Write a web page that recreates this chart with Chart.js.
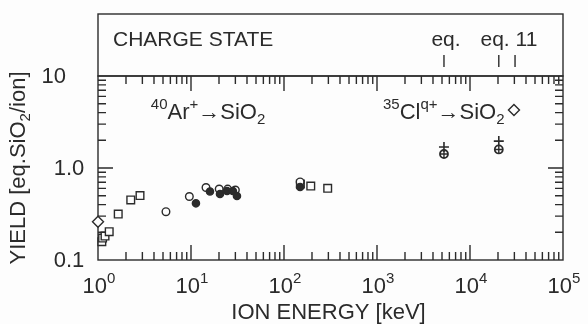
<!DOCTYPE html>
<html>
<head>
<meta charset="utf-8">
<script src="https://cdn.jsdelivr.net/npm/chart.js@4.4.1/dist/chart.umd.min.js"></script>
<style>
  html, body { margin: 0; padding: 0; background: #fdfdfd; }
  canvas { display: block; }
</style>
</head>
<body>
<canvas id="yieldChart" width="588" height="324"></canvas>
<script>
// Sputter yield of SiO2 vs ion energy
const squareEnergy = [1.10, 1.12, 1.19, 1.32, 1.65, 2.25, 2.83, 150, 194, 295];
const squareYield  = [0.158, 0.173, 0.182, 0.203, 0.316, 0.449, 0.502, 0.67, 0.637, 0.601];

const openCircleEnergy = [5.38, 9.6, 14.5, 20.1, 24.8, 30.0, 149];
const openCircleYield  = [0.335, 0.49, 0.614, 0.591, 0.59, 0.576, 0.705];

const filledCircleEnergy = [11.3, 16.0, 20.5, 24.4, 28.2, 31.2, 149];
const filledCircleYield  = [0.413, 0.556, 0.521, 0.562, 0.562, 0.496, 0.621];

const diamondEnergy = [1.0, 29700];
const diamondYield  = [0.261, 4.27];

// 35Cl data: equilibrium charge (crossed circle) and plus markers
const clEqEnergy = [5250, 20400];
const clEqYield  = [1.42, 1.59];
const clPlusEnergy = [5250, 20400];
const clPlusYield  = [1.69, 1.96];

// charge-state markers in the upper panel
const chargeStateEnergy = [5250, 20400, 30500];
const chargeStateLabels = ['eq.', 'eq. 11'];

const xTickExponents = [0, 1, 2, 3, 4, 5];
const yTickValues = [0.1, 1, 10];
const yTickLabels = ['0.1', '1.0', '10'];

const ink = '#2b2b2b';
const fontFamily = '"Liberation Sans", Arial, Helvetica, sans-serif';
const bigFont = 22;
const smallFont = 15;

function points(xs, ys) {
  return xs.map((v, i) => ({ x: v, y: ys[i] }));
}

// draws text made of normal / sup / sub pieces
function richText(ctx, parts, x, y, align, size) {
  const base = size || bigFont;
  const pieces = parts.map(([t, kind]) => {
    const s = kind ? smallFont : base;
    ctx.font = s + 'px ' + fontFamily;
    return { t, s, w: ctx.measureText(t).width, dy: kind === 'sup' ? -10 : kind === 'sub' ? 5 : 0 };
  });
  const total = pieces.reduce((sum, p) => sum + p.w, 0);
  let cx = align === 'center' ? x - total / 2 : align === 'right' ? x - total : x;
  ctx.textAlign = 'left';
  ctx.textBaseline = 'alphabetic';
  pieces.forEach(p => {
    ctx.font = p.s + 'px ' + fontFamily;
    ctx.fillText(p.t, cx, y + p.dy);
    cx += p.w;
  });
}

function logTicks(min, max) {
  const out = [];
  for (let e = Math.round(Math.log10(min)); e < Math.round(Math.log10(max)); e++) {
    for (let m = 1; m < 10; m++) out.push({ v: m * Math.pow(10, e), major: m === 1 });
  }
  return out;
}

const annotations = [
  { parts: [['40', 'sup'], ['Ar'], ['+', 'sup'], ['→'], ['SiO'], ['2', 'sub']], x: 3.7, y: 3.4 },
  { parts: [['35', 'sup'], ['Cl'], ['q+', 'sup'], ['→'], ['SiO'], ['2', 'sub']], x: 1160, y: 3.4 }
];

const framePlugin = {
  id: 'frame',
  beforeDatasetsDraw(chart) {
    const { ctx, chartArea: a, scales: { x, y } } = chart;
    const panelTop = 14;
    ctx.save();
    ctx.strokeStyle = ink;
    ctx.fillStyle = ink;
    ctx.lineWidth = 1.4;

    ctx.strokeRect(a.left, panelTop, a.right - a.left, a.top - panelTop);
    ctx.strokeRect(a.left, a.top, a.right - a.left, a.bottom - a.top);

    // inward ticks on all four sides
    ctx.beginPath();
    logTicks(x.min, x.max).forEach(t => {
      const px = x.getPixelForValue(t.v);
      if (px <= a.left + 1 || px >= a.right - 1) return;
      const len = t.major ? 15 : 8;
      ctx.moveTo(px, a.bottom); ctx.lineTo(px, a.bottom - len);
      ctx.moveTo(px, a.top); ctx.lineTo(px, a.top + len);
    });
    logTicks(y.min, y.max).forEach(t => {
      const py = y.getPixelForValue(t.v);
      if (py <= a.top + 1 || py >= a.bottom - 1) return;
      const len = t.major ? 15 : 8;
      ctx.moveTo(a.left, py); ctx.lineTo(a.left + len, py);
      ctx.moveTo(a.right, py); ctx.lineTo(a.right - len, py);
    });
    // charge-state marks
    chargeStateEnergy.forEach(e => {
      const px = x.getPixelForValue(e);
      ctx.moveTo(px, 55); ctx.lineTo(px, 67);
    });
    ctx.stroke();

    // panel text
    ctx.font = '21px ' + fontFamily;
    ctx.textAlign = 'left';
    ctx.textBaseline = 'alphabetic';
    ctx.fillText('CHARGE STATE', 113, 46);
    ctx.textAlign = 'center';
    ctx.fillText(chargeStateLabels[0], x.getPixelForValue(chargeStateEnergy[0]) + 2, 46);
    const mid = (x.getPixelForValue(chargeStateEnergy[1]) + x.getPixelForValue(chargeStateEnergy[2])) / 2;
    ctx.fillText(chargeStateLabels[1], mid + 2, 46);

    // x tick labels: 10^n
    xTickExponents.forEach(n => {
      const px = x.getPixelForValue(Math.pow(10, n));
      richText(ctx, [['10'], [String(n), 'sup']], px + 1, 293, 'center');
    });

    // y tick labels, aligned on the decimal point
    ctx.font = bigFont + 'px ' + fontFamily;
    ctx.textBaseline = 'middle';
    yTickValues.forEach((v, i) => {
      const py = y.getPixelForValue(v);
      const label = yTickLabels[i];
      const intPart = label.split('.')[0];
      const frac = label.slice(intPart.length);
      ctx.textAlign = 'right';
      ctx.fillText(intPart, 66, py + 1);
      ctx.textAlign = 'left';
      ctx.fillText(frac, 66, py + 1);
    });

    // axis titles
    richText(ctx, [['ION ENERGY [keV]']], (a.left + a.right) / 2 - 2, 319, 'center');
    ctx.save();
    ctx.translate(25, (a.top + a.bottom) / 2);
    ctx.rotate(-Math.PI / 2);
    richText(ctx, [['YIELD [eq.SiO'], ['2', 'sub'], ['/ion]']], 0, 0, 'center');
    ctx.restore();

    // reaction labels
    annotations.forEach(an => {
      richText(ctx, an.parts, x.getPixelForValue(an.x), y.getPixelForValue(an.y), 'left');
    });

    ctx.restore();
  }
};

const marker = { borderColor: ink, borderWidth: 1.4, clip: false };

new Chart(document.getElementById('yieldChart'), {
  type: 'scatter',
  data: {
    datasets: [
      { ...marker, label: 'Cl plus', data: points(clPlusEnergy, clPlusYield), pointStyle: 'cross', pointRadius: 5, borderWidth: 1.6 },
      { ...marker, label: 'Cl eq cross', data: points(clEqEnergy, clEqYield), pointStyle: 'cross', pointRadius: 4 },
      { ...marker, label: 'Cl eq', data: points(clEqEnergy, clEqYield), pointStyle: 'circle', pointRadius: 4, backgroundColor: '#fdfdfd', borderWidth: 1.8 },
      { ...marker, label: 'Ar filled', data: points(filledCircleEnergy, filledCircleYield), pointStyle: 'circle', pointRadius: 3.6, backgroundColor: ink },
      { ...marker, label: 'Ar open', data: points(openCircleEnergy, openCircleYield), pointStyle: 'circle', pointRadius: 3.8, backgroundColor: '#fdfdfd' },
      { ...marker, label: 'squares', data: points(squareEnergy, squareYield), pointStyle: 'rect', pointRadius: 5.4, backgroundColor: '#fdfdfd' },
      { ...marker, label: 'diamonds', data: points(diamondEnergy, diamondYield), pointStyle: 'rectRot', pointRadius: 5.5, backgroundColor: '#fdfdfd' }
    ]
  },
  options: {
    responsive: false,
    devicePixelRatio: 1,
    animation: false,
    layout: { padding: { left: 98, right: 25, top: 76, bottom: 64 } },
    scales: {
      x: { type: 'logarithmic', min: 1, max: 1e5, display: false },
      y: { type: 'logarithmic', min: 0.1, max: 10, display: false }
    },
    plugins: {
      legend: { display: false },
      tooltip: { enabled: false }
    }
  },
  plugins: [framePlugin]
});
</script>
</body>
</html>
